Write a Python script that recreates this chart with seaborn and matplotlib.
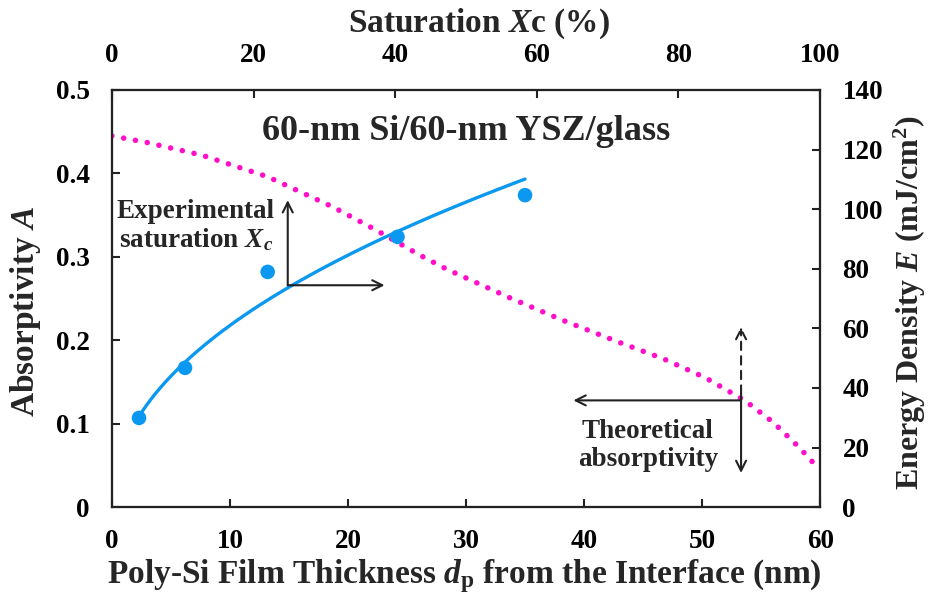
import numpy as np
import pandas as pd
import matplotlib
matplotlib.use("Agg")
import matplotlib.pyplot as plt
import seaborn as sns

# Measured absorptivity vs. poly-Si film thickness from the interface
thickness_nm = [2.3, 6.2, 13.2, 24.2, 35.0]
absorptivity_exp = [0.107, 0.167, 0.282, 0.324, 0.374]

# Theoretical absorptivity curve
theory_thickness_nm = [0.0, 3.0, 7.6, 13.2, 18.7, 22.4, 26.1, 28.4, 33.7,
                       38.2, 42.9, 46.7, 50.3, 53.6, 56.0, 58.2, 59.5]
theory_absorptivity = [0.445, 0.437, 0.422, 0.396, 0.360, 0.332, 0.302, 0.285,
                       0.251, 0.224, 0.198, 0.178, 0.155, 0.128, 0.102, 0.072,
                       0.052]

bottom_ticks = [0, 10, 20, 30, 40, 50, 60]
left_ticks = [0, 0.1, 0.2, 0.3, 0.4, 0.5]
left_tick_labels = ["0", "0.1", "0.2", "0.3", "0.4", "0.5"]
top_ticks = [0, 20, 40, 60, 80, 100]
right_ticks = [0, 20, 40, 60, 80, 100, 120, 140]

BLUE = "#0A98F0"
PINK = "#FF10C8"
SERIF = "Liberation Serif"

sns.set_theme(style="ticks")
plt.rcParams.update({
    "font.family": [SERIF, "DejaVu Serif"],
    "font.weight": "bold",
    "mathtext.fontset": "custom",
    "mathtext.rm": f"{SERIF}:bold",
    "mathtext.it": f"{SERIF}:italic:bold",
    "mathtext.bf": f"{SERIF}:bold",
    "axes.linewidth": 1.5,
    "axes.edgecolor": "#222222",
})

fig = plt.figure(figsize=(9.32, 5.96), dpi=100)
ax = fig.add_axes([0.120, 0.149, 0.760, 0.700])

exp_df = pd.DataFrame({"d": thickness_nm, "A": absorptivity_exp})
theory_df = pd.DataFrame({"d": theory_thickness_nm, "A": theory_absorptivity})

# Power-law trendline fitted to the measured points (least squares in log space)
b, ln_a = np.polyfit(np.log(exp_df["d"]), np.log(exp_df["A"]), 1)
d_fit = np.linspace(exp_df["d"].min(), exp_df["d"].max(), 200)
fit_df = pd.DataFrame({"d": d_fit, "A": np.exp(ln_a) * d_fit ** b})

sns.lineplot(data=theory_df, x="d", y="A", ax=ax, color=PINK, lw=4.0,
             linestyle=(0, (0.01, 2.15)), dash_capstyle="round", zorder=2)
sns.lineplot(data=fit_df, x="d", y="A", ax=ax, color=BLUE, lw=2.4, zorder=3)
sns.scatterplot(data=exp_df, x="d", y="A", ax=ax, color=BLUE, s=110,
                edgecolor="none", zorder=4)

ax.set_xlim(0, 60)
ax.set_ylim(0, 0.5)
ax.set_xticks(bottom_ticks)
ax.set_yticks(left_ticks)
ax.set_yticklabels(left_tick_labels)

# Secondary axes: saturation on top, energy density on the right
ax_top = ax.twiny()
ax_top.set_xlim(0, 100)
ax_top.set_xticks(top_ticks)
ax_right = ax.twinx()
ax_right.set_ylim(0, 140)
ax_right.set_yticks(right_ticks)

tick_kw = dict(direction="in", length=6, width=1.5, pad=16, labelsize=19.5,
               color="#222222", labelcolor="black")
ax.tick_params(axis="both", **tick_kw)
ax_top.tick_params(axis="x", top=True, labeltop=True, bottom=False,
                   labelbottom=False, **tick_kw)
ax_right.tick_params(axis="y", right=True, labelright=True, left=False,
                     labelleft=False, **tick_kw)
for a in (ax, ax_top, ax_right):
    for lab in a.get_xticklabels() + a.get_yticklabels():
        lab.set_fontweight("bold")
    for s in a.spines.values():
        s.set_visible(True)
        s.set_linewidth(1.5)

label_size = 24
ax.set_xlabel(r"Poly-Si Film Thickness $d$$_{\rm p}$ from the Interface (nm)",
              fontsize=label_size, fontweight="bold")
ax.set_ylabel(r"Absorptivity $A$", fontsize=label_size, fontweight="bold")
ax_top.set_xlabel(r"Saturation $X$c (%)", fontsize=label_size, fontweight="bold")
ax_right.set_ylabel(r"Energy Density $E$ (mJ/cm$^2$)", fontsize=23,
                    fontweight="bold")

ax.xaxis.set_label_coords(0.497, -0.165)
ax.xaxis.label.set_va("center")
ax.yaxis.set_label_coords(-0.122, 0.470)
ax.yaxis.label.set_va("center")
ax_top.xaxis.set_label_coords(0.518, 1.158)
ax_top.xaxis.label.set_va("center")
ax_right.yaxis.set_label_coords(1.126, 0.489)
ax_right.yaxis.label.set_va("center")

ax.text(30.0, 0.450, "60-nm Si/60-nm YSZ/glass", fontsize=26,
        fontweight="bold", ha="center", va="center", zorder=5)

# Reading guides for the experimental saturation
arrow_kw = dict(arrowstyle="->", color="#222222", lw=1.5, mutation_scale=18,
                shrinkA=0, shrinkB=0)
ax.annotate("", xy=(14.9, 0.368), xytext=(14.9, 0.266), arrowprops=arrow_kw)
ax.annotate("", xy=(23.1, 0.266), xytext=(14.9, 0.266), arrowprops=arrow_kw)
ax.text(7.1, 0.337, "Experimental\nsaturation $X$$_{c}$", fontsize=19.5,
        fontweight="bold", ha="center", va="center", linespacing=1.1)

# Reading guides for the theoretical absorptivity
ax.annotate("", xy=(39.1, 0.128), xytext=(53.3, 0.128), arrowprops=arrow_kw)
ax.annotate("", xy=(53.3, 0.041), xytext=(53.3, 0.136), arrowprops=arrow_kw)
ax.annotate("", xy=(53.3, 0.216), xytext=(53.3, 0.136),
            arrowprops=dict(arrow_kw, linestyle=(0, (4, 3))))
ax.text(45.4, 0.074, "Theoretical\nabsorptivity", fontsize=19.5,
        fontweight="bold", ha="center", va="center", linespacing=1.15)

ax.set_zorder(ax_right.get_zorder() + 1)
ax.patch.set_visible(False)

fig.savefig("out.png", dpi=100)
